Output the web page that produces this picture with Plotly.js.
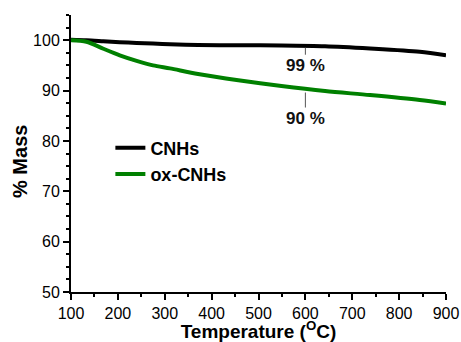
<!DOCTYPE html>
<html>
<head>
<meta charset="utf-8">
<script src="https://cdn.plot.ly/plotly-3.0.1.min.js"></script>
<style>html,body{margin:0;padding:0;background:#fff;}#chart{width:461px;height:342px;}</style>
</head>
<body>
<div id="chart"></div>
<script>
const temps  = [100, 133, 169, 204, 240, 275, 311, 371, 457, 549, 642, 738, 844, 900];
const cnhs   = [100.1, 100.0, 99.8, 99.6, 99.45, 99.35, 99.2, 99.05, 99.0, 98.95, 98.8, 98.35, 97.7, 97.0];
const oxcnhs = [100.0, 99.7, 98.3, 97.0, 95.9, 95.0, 94.4, 93.3, 92.05, 90.9, 89.9, 89.1, 88.1, 87.4];
const seriesNames = ['CNHs', 'ox-CNHs'];
const seriesColors = ['#000000', '#008000'];
const labelTemp = 600;
const labels = ['99 %', '90 %'];
const labelVals = [98.9, 90.4];

const FONT = 'Liberation Sans, Arial, sans-serif';
const traces = [
  {x: temps, y: cnhs, name: seriesNames[0], mode: 'lines', line: {color: seriesColors[0], width: 4, shape: 'spline', smoothing: 0.8}},
  {x: temps, y: oxcnhs, name: seriesNames[1], mode: 'lines', line: {color: seriesColors[1], width: 4, shape: 'spline', smoothing: 0.8}}
];

const tickFont = {family: FONT, size: 16, color: '#000'};
const layout = {
  width: 461, height: 342,
  margin: {l: 71, r: 15, t: 15, b: 50},
  paper_bgcolor: '#fff', plot_bgcolor: '#fff',
  showlegend: true,
  legend: {x: 0.105, y: 0.473, xanchor: 'left', yanchor: 'middle', bgcolor: 'rgba(0,0,0,0)',
    font: {family: FONT, size: 18, color: '#000', weight: 'bold'},
    itemwidth: 30, tracegroupgap: 0},
  xaxis: {
    range: [100, 900], showgrid: false, zeroline: false,
    showline: true, linecolor: '#000', linewidth: 2,
    ticks: 'outside', ticklen: 6, tickwidth: 2, tickcolor: '#000',
    tickvals: [100,200,300,400,500,600,700,800,900],
    minor: {ticks: 'outside', ticklen: 3, tickwidth: 2, tickcolor: '#000', dtick: 50, showgrid: false},
    tickfont: tickFont,
    title: {text: '<b>Temperature (<sup>O</sup>C)</b>', font: {family: FONT, size: 19, color: '#000'}, standoff: 6}
  },
  yaxis: {
    range: [50, 105], showgrid: false, zeroline: false,
    showline: true, linecolor: '#000', linewidth: 2,
    ticks: 'outside', ticklen: 6, tickwidth: 2, tickcolor: '#000',
    tickvals: [50,60,70,80,90,100],
    minor: {ticks: 'outside', ticklen: 3, tickwidth: 2, tickcolor: '#000', dtick: 2.5, showgrid: false},
    tickfont: tickFont
  },
  annotations: [
    {xref: 'paper', yref: 'paper', x: -0.136, y: 0.473, xanchor: 'center', yanchor: 'middle',
     text: '<b>% Mass</b>', textangle: -90, showarrow: false,
     font: {family: FONT, size: 20, color: '#000'}},
    {x: labelTemp, y: labelVals[0], text: '<b>' + labels[0] + '</b>', showarrow: true, arrowhead: 0, arrowwidth: 1, arrowcolor: '#555',
     ax: 0, ay: 20, standoff: 2, font: {family: FONT, size: 17, color: '#111'}},
    {x: labelTemp, y: labelVals[1], text: '<b>' + labels[1] + '</b>', showarrow: true, arrowhead: 0, arrowwidth: 1, arrowcolor: '#555',
     ax: 0, ay: 30, standoff: 4, font: {family: FONT, size: 17, color: '#111'}}
  ]
};
Plotly.newPlot('chart', traces, layout, {staticPlot: true, displayModeBar: false});
</script>
</body>
</html>
